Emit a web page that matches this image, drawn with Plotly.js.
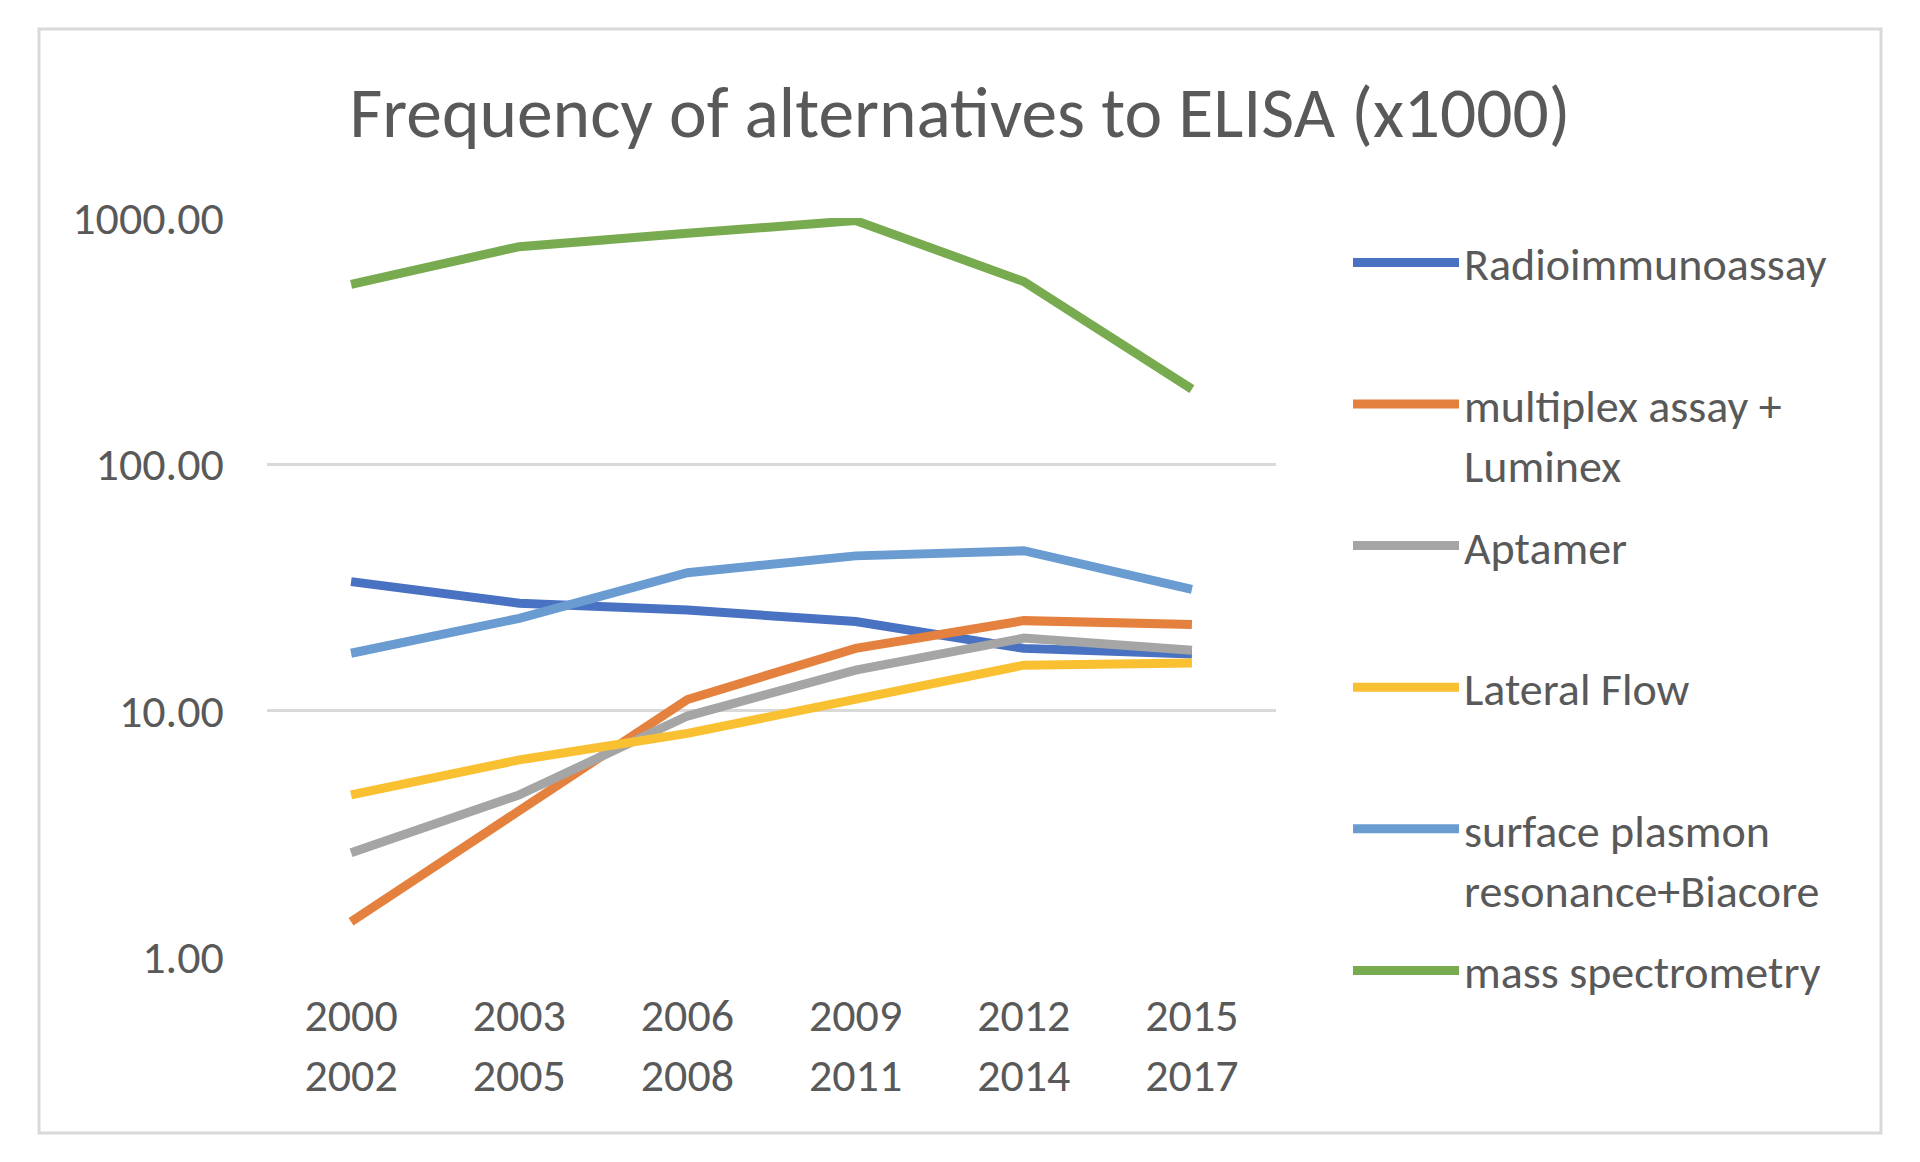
<!DOCTYPE html>
<html>
<head>
<meta charset="utf-8">
<script src="https://cdn.plot.ly/plotly-3.0.1.min.js"></script>
<style>
  html, body { margin: 0; padding: 0; background: #ffffff; }
  #chart { width: 1920px; height: 1162px; }
</style>
</head>
<body>
<div id="chart"></div>
<script>
// ---- data ----
const periodStart = [2000, 2003, 2006, 2009, 2012, 2015];
const periodEnd   = [2002, 2005, 2008, 2011, 2014, 2017];

const seriesNames = [
  'Radioimmunoassay',
  'multiplex assay +<br>Luminex',
  'Aptamer',
  'Lateral Flow',
  'surface plasmon<br>resonance+Biacore',
  'mass spectrometry'
];

const radioimmunoassay = [33.4, 27.3, 25.6, 23.0, 17.9, 17.0];
const multiplexLuminex = [1.39, 3.93, 11.1, 17.9, 23.2, 22.4];
const aptamer          = [2.65, 4.55, 9.51, 14.6, 19.7, 17.6];
const lateralFlow      = [4.55, 6.31, 8.09, 11.05, 15.3, 15.6];
const sprBiacore       = [17.1, 23.7, 36.3, 42.5, 44.6, 31.1];
const massSpectrometry = [538, 765, 867, 976, 552, 202];

const yTickVals = [1, 10, 100, 1000];
const yTickText = ['1.00', '10.00', '100.00', '1000.00'];

const chartTitle = 'Frequency of alternatives to ELISA (x1000)';

// ---- styling ----
const colors = ['#4A72C2', '#E5813F', '#A5A5A5', '#F9C132', '#6A9CD2', '#78AB50'];
const FONT = 'Carlito, Lato, "Open Sans", sans-serif';
const TEXT = '#595959';

const W = 1920, H = 1162;
const plotL = 267, plotR = 1276, plotT = 218, plotB = 957;
const pw = plotR - plotL, ph = plotB - plotT;
const px2x = px => (px - plotL) / pw;
const px2y = py => (plotB - py) / ph;

const categories = periodStart.map((s, i) => s + '<br>' + periodEnd[i]);
const allSeries = [radioimmunoassay, multiplexLuminex, aptamer, lateralFlow, sprBiacore, massSpectrometry];
const lastIdx = allSeries.length - 1;

const traces = allSeries.map((vals, i) => ({
  type: 'scatter',
  mode: 'lines',
  x: categories,
  y: vals,
  name: (seriesNames[i].includes('<br>') || i === lastIdx) ? seriesNames[i] : seriesNames[i] + '<br>\u00a0',
  legendgroup: 'g' + i,
  line: { color: colors[i], width: 9 },
  hoverinfo: 'skip'
}));

const layout = {
  width: W,
  height: H,
  paper_bgcolor: '#ffffff',
  plot_bgcolor: '#ffffff',
  margin: { l: plotL, r: W - plotR, t: plotT, b: H - plotB, pad: 0, autoexpand: false },
  font: { family: FONT, color: TEXT },
  title: {
    text: chartTitle,
    font: { family: FONT, size: 71.5, color: TEXT },
    x: 0.5, xref: 'container', xanchor: 'center',
    y: 1 - 112 / H, yref: 'container', yanchor: 'middle'
  },
  xaxis: {
    type: 'category',
    range: [-0.5, 5.5],
    showgrid: false,
    zeroline: false,
    showline: false,
    ticks: 'outside',
    ticklen: 18,
    tickcolor: 'rgba(0,0,0,0)',
    tickfont: { family: FONT, size: 46, color: TEXT },
    fixedrange: true
  },
  yaxis: {
    type: 'log',
    range: [0, 3],
    tickvals: yTickVals,
    ticktext: yTickText,
    showgrid: true,
    gridcolor: '#d9d9d9',
    gridwidth: 2.5,
    zeroline: false,
    showline: false,
    ticks: 'outside',
    ticklen: 33,
    tickcolor: 'rgba(0,0,0,0)',
    tickfont: { family: FONT, size: 46, color: TEXT },
    fixedrange: true
  },
  showlegend: true,
  legend: {
    x: px2x(1348),
    xanchor: 'left',
    y: px2y(226),
    yanchor: 'top',
    maxheight: 1000,
    traceorder: 'grouped',
    tracegroupgap: 19,
    valign: 'top',
    itemwidth: 106,
    font: { family: FONT, size: 46, color: TEXT },
    bgcolor: 'rgba(0,0,0,0)'
  },
  shapes: [{
    type: 'rect',
    xref: 'paper', yref: 'paper',
    x0: px2x(39), x1: px2x(1881),
    y0: px2y(1133), y1: px2y(29),
    line: { color: '#d9d9d9', width: 3 },
    fillcolor: 'rgba(0,0,0,0)',
    layer: 'below'
  }]
};

Plotly.newPlot('chart', traces, layout, { displayModeBar: false, staticPlot: true });
</script>
</body>
</html>
